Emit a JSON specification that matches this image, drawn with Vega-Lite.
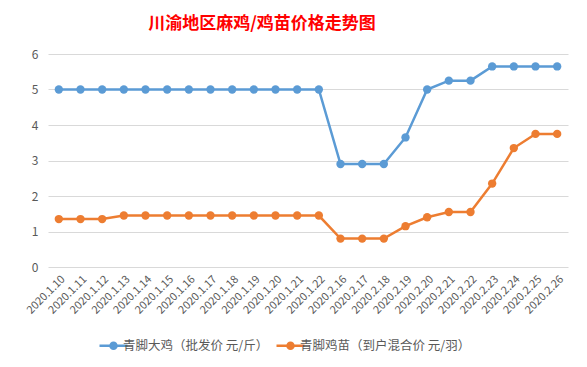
{
  "$schema": "https://vega.github.io/schema/vega-lite/v6.json",
  "width": 520,
  "height": 213,
  "autosize": {"type": "none"},
  "padding": {"left": 48, "top": 54, "right": 19, "bottom": 100},
  "background": "white",
  "title": {
    "text": "川渝地区麻鸡/鸡苗价格走势图",
    "color": "#FF0000",
    "font": "Noto Sans CJK SC",
    "fontSize": 17,
    "fontWeight": "bold",
    "anchor": "middle",
    "dx": -46,
    "offset": 15
  },
  "config": {
    "view": {"stroke": null},
    "font": "Noto Sans CJK SC"
  },
  "data": {
    "values": [
      {"date": "2020.1.10", "s": "青脚大鸡（批发价 元/斤）", "v": 5},
      {"date": "2020.1.11", "s": "青脚大鸡（批发价 元/斤）", "v": 5},
      {"date": "2020.1.12", "s": "青脚大鸡（批发价 元/斤）", "v": 5},
      {"date": "2020.1.13", "s": "青脚大鸡（批发价 元/斤）", "v": 5},
      {"date": "2020.1.14", "s": "青脚大鸡（批发价 元/斤）", "v": 5},
      {"date": "2020.1.15", "s": "青脚大鸡（批发价 元/斤）", "v": 5},
      {"date": "2020.1.16", "s": "青脚大鸡（批发价 元/斤）", "v": 5},
      {"date": "2020.1.17", "s": "青脚大鸡（批发价 元/斤）", "v": 5},
      {"date": "2020.1.18", "s": "青脚大鸡（批发价 元/斤）", "v": 5},
      {"date": "2020.1.19", "s": "青脚大鸡（批发价 元/斤）", "v": 5},
      {"date": "2020.1.20", "s": "青脚大鸡（批发价 元/斤）", "v": 5},
      {"date": "2020.1.21", "s": "青脚大鸡（批发价 元/斤）", "v": 5},
      {"date": "2020.1.22", "s": "青脚大鸡（批发价 元/斤）", "v": 5},
      {"date": "2020.2.16", "s": "青脚大鸡（批发价 元/斤）", "v": 2.9},
      {"date": "2020.2.17", "s": "青脚大鸡（批发价 元/斤）", "v": 2.9},
      {"date": "2020.2.18", "s": "青脚大鸡（批发价 元/斤）", "v": 2.9},
      {"date": "2020.2.19", "s": "青脚大鸡（批发价 元/斤）", "v": 3.65},
      {"date": "2020.2.20", "s": "青脚大鸡（批发价 元/斤）", "v": 5},
      {"date": "2020.2.21", "s": "青脚大鸡（批发价 元/斤）", "v": 5.25},
      {"date": "2020.2.22", "s": "青脚大鸡（批发价 元/斤）", "v": 5.25},
      {"date": "2020.2.23", "s": "青脚大鸡（批发价 元/斤）", "v": 5.65},
      {"date": "2020.2.24", "s": "青脚大鸡（批发价 元/斤）", "v": 5.65},
      {"date": "2020.2.25", "s": "青脚大鸡（批发价 元/斤）", "v": 5.65},
      {"date": "2020.2.26", "s": "青脚大鸡（批发价 元/斤）", "v": 5.65},
      {"date": "2020.1.10", "s": "青脚鸡苗（到户混合价 元/羽）", "v": 1.35},
      {"date": "2020.1.11", "s": "青脚鸡苗（到户混合价 元/羽）", "v": 1.35},
      {"date": "2020.1.12", "s": "青脚鸡苗（到户混合价 元/羽）", "v": 1.35},
      {"date": "2020.1.13", "s": "青脚鸡苗（到户混合价 元/羽）", "v": 1.45},
      {"date": "2020.1.14", "s": "青脚鸡苗（到户混合价 元/羽）", "v": 1.45},
      {"date": "2020.1.15", "s": "青脚鸡苗（到户混合价 元/羽）", "v": 1.45},
      {"date": "2020.1.16", "s": "青脚鸡苗（到户混合价 元/羽）", "v": 1.45},
      {"date": "2020.1.17", "s": "青脚鸡苗（到户混合价 元/羽）", "v": 1.45},
      {"date": "2020.1.18", "s": "青脚鸡苗（到户混合价 元/羽）", "v": 1.45},
      {"date": "2020.1.19", "s": "青脚鸡苗（到户混合价 元/羽）", "v": 1.45},
      {"date": "2020.1.20", "s": "青脚鸡苗（到户混合价 元/羽）", "v": 1.45},
      {"date": "2020.1.21", "s": "青脚鸡苗（到户混合价 元/羽）", "v": 1.45},
      {"date": "2020.1.22", "s": "青脚鸡苗（到户混合价 元/羽）", "v": 1.45},
      {"date": "2020.2.16", "s": "青脚鸡苗（到户混合价 元/羽）", "v": 0.8},
      {"date": "2020.2.17", "s": "青脚鸡苗（到户混合价 元/羽）", "v": 0.8},
      {"date": "2020.2.18", "s": "青脚鸡苗（到户混合价 元/羽）", "v": 0.8},
      {"date": "2020.2.19", "s": "青脚鸡苗（到户混合价 元/羽）", "v": 1.15},
      {"date": "2020.2.20", "s": "青脚鸡苗（到户混合价 元/羽）", "v": 1.4},
      {"date": "2020.2.21", "s": "青脚鸡苗（到户混合价 元/羽）", "v": 1.55},
      {"date": "2020.2.22", "s": "青脚鸡苗（到户混合价 元/羽）", "v": 1.55},
      {"date": "2020.2.23", "s": "青脚鸡苗（到户混合价 元/羽）", "v": 2.35},
      {"date": "2020.2.24", "s": "青脚鸡苗（到户混合价 元/羽）", "v": 3.35},
      {"date": "2020.2.25", "s": "青脚鸡苗（到户混合价 元/羽）", "v": 3.75},
      {"date": "2020.2.26", "s": "青脚鸡苗（到户混合价 元/羽）", "v": 3.75}
    ]
  },
  "mark": {"type": "line", "strokeWidth": 2.5, "point": {"filled": true, "size": 70}},
  "encoding": {
    "x": {
      "field": "date",
      "type": "ordinal",
      "sort": null,
      "scale": {"paddingOuter": 0.5},
      "axis": {
        "title": null,
        "labelAngle": -45,
        "labelColor": "#595959",
        "labelFontSize": 11,
        "labelPadding": 6,
        "domain": false,
        "ticks": false,
        "grid": false
      }
    },
    "y": {
      "field": "v",
      "type": "quantitative",
      "scale": {"domain": [0, 6]},
      "axis": {
        "title": null,
        "values": [0, 1, 2, 3, 4, 5, 6],
        "labelColor": "#595959",
        "labelFontSize": 12,
        "labelPadding": 10,
        "domain": false,
        "ticks": false,
        "gridColor": "#D9D9D9",
        "gridWidth": 1
      }
    },
    "color": {
      "field": "s",
      "type": "nominal",
      "sort": null,
      "scale": {
        "domain": ["青脚大鸡（批发价 元/斤）", "青脚鸡苗（到户混合价 元/羽）"],
        "range": ["#5B9BD5", "#ED7D31"]
      },
      "legend": {
        "title": null,
        "orient": "none",
        "legendX": 59,
        "legendY": 285,
        "direction": "horizontal",
        "labelColor": "#595959",
        "labelFontSize": 12.5,
        "labelLimit": 300,
        "labelOffset": 3,
        "symbolType": "M-2.8,0L2.8,0M-0.6,0a0.6,0.6 0 1,0 1.2,0a0.6,0.6 0 1,0 -1.2,0Z",
        "symbolSize": 100,
        "symbolStrokeWidth": 2.5,
        "columnPadding": 2,
        "encode": {
          "symbols": {
            "update": {
              "stroke": {"scale": "color", "field": "value"},
              "fill": {"scale": "color", "field": "value"},
              "strokeWidth": {"value": 2.5},
              "opacity": {"value": 1}
            }
          }
        }
      }
    }
  }
}
